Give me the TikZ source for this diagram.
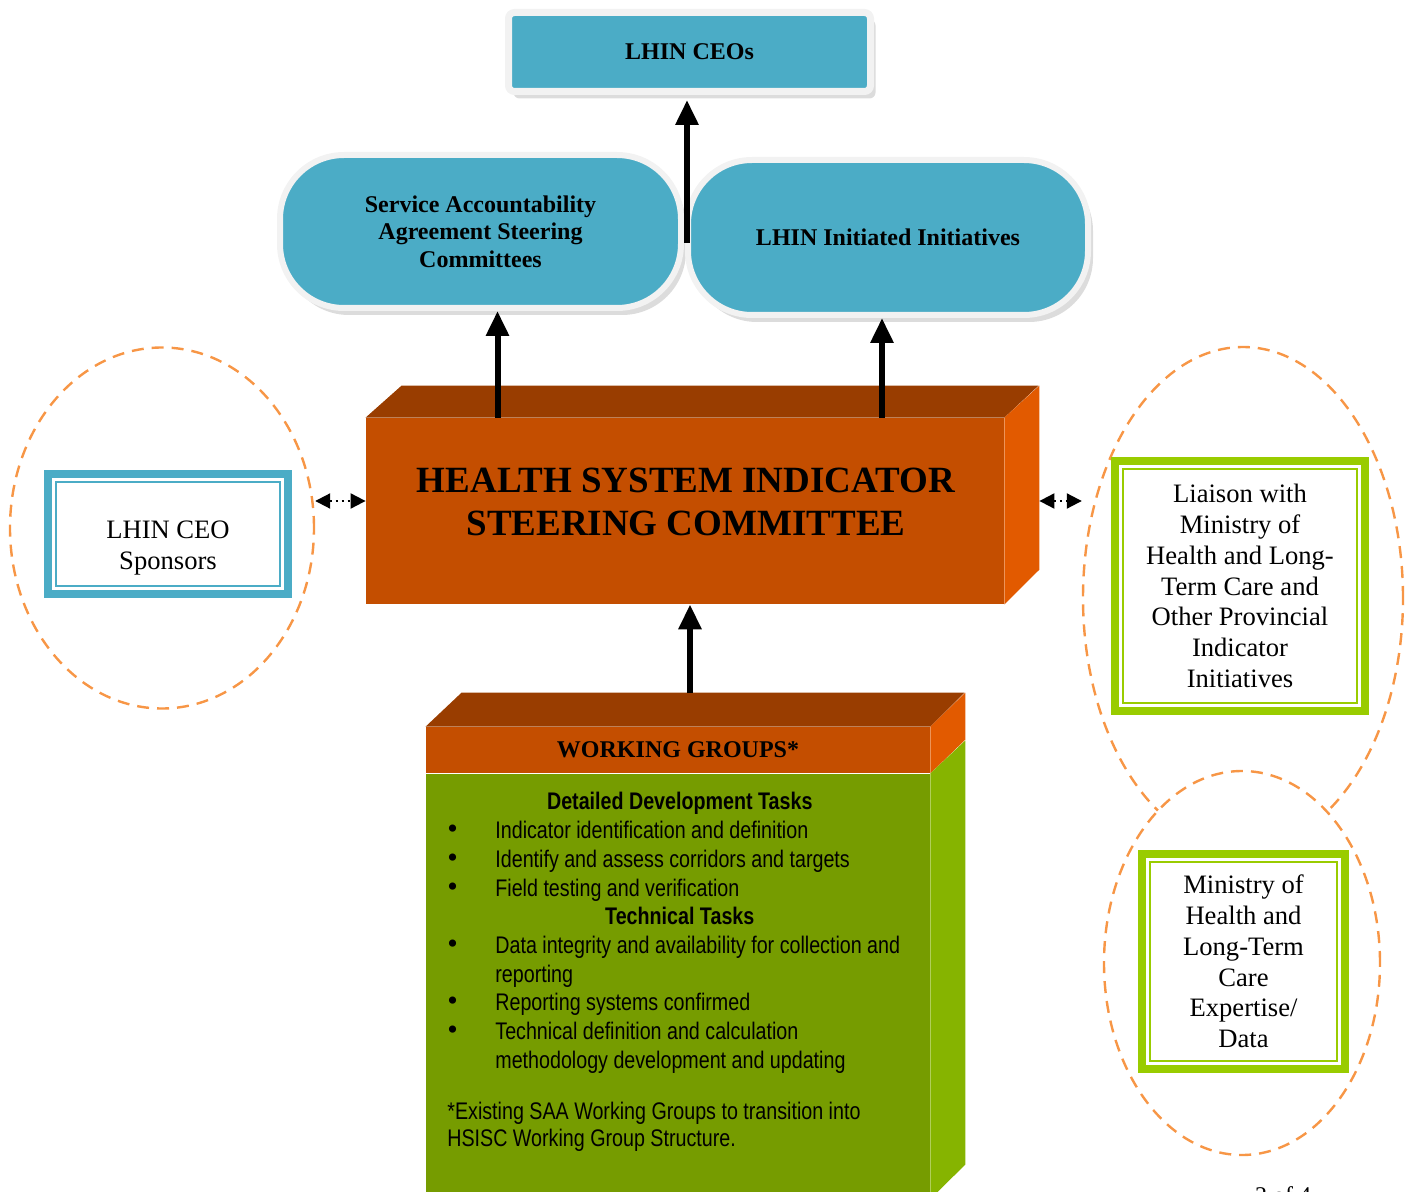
\documentclass[tikz,border=0pt]{standalone}
\usepackage{fontspec}
\setmainfont{Liberation Serif}
\newfontfamily\narrowfont[FakeStretch=0.82]{Liberation Sans}
\usepackage{tikz}
\usetikzlibrary{shapes.geometric,shadows,arrows.meta,positioning}
\definecolor{ceoBlue}{RGB}{75,172,198}
\definecolor{rimGray}{RGB}{242,242,242}
\definecolor{boxFront}{RGB}{196,78,0}
\definecolor{boxTop}{RGB}{153,61,0}
\definecolor{boxSide}{RGB}{226,90,0}
\definecolor{wgFront}{RGB}{118,156,0}
\definecolor{wgSide}{RGB}{134,180,0}
\definecolor{limeFrame}{RGB}{153,204,0}
\definecolor{ringOrange}{RGB}{247,150,70}
\newcommand{\wgDot}{{\rmfamily\fontsize{15}{14.35}\selectfont\textbullet}}
\tikzstyle{ceoBlock} = [rectangle,rounded corners=3pt,fill=ceoBlue,draw=rimGray,line width=3.5pt,inner sep=0pt,align=center,drop shadow={shadow xshift=2.5pt,shadow yshift=-3.5pt,fill=gray!55},font=\bfseries\fontsize{12}{13.75}\selectfont]
\tikzstyle{pill} = [ceoBlock,rounded corners=32pt,line width=3pt]
\tikzstyle{ring} = [ellipse,draw=ringOrange,line width=1.2pt,dash pattern=on 6pt off 4pt,inner sep=0pt]
\tikzstyle{arrowLine} = [draw,line width=3pt,-{Triangle[length=12.5pt,width=11pt]}]
\tikzstyle{dotArrow} = [draw,line width=1pt,dotted,{Triangle[length=7.5pt,width=7.5pt]}-{Triangle[length=7.5pt,width=7.5pt]}]
\tikzset{frameBox/.style={rectangle,fill=white,draw=#1,line width=4pt,inner sep=0pt,align=center,font=\fontsize{13.3}{15.4}\selectfont,
  path picture={\draw[#1,line width=1pt] ([shift={(4pt,-4pt)}]path picture bounding box.north west) rectangle ([shift={(-4pt,4pt)}]path picture bounding box.south east);}}}
\begin{document}
\begin{tikzpicture}[x=0.5pt,y=-0.5pt]
		\useasboundingbox (0,0) rectangle (1409,1192);
		%rings
		\node[ring,minimum width=152pt,minimum height=180.5pt](sponsorRing) at (162,528){};
		\node[ring,minimum width=160pt,minimum height=251pt](liaisonRing) at (1243,598){};
		\node[ring,fill=white,minimum width=138pt,minimum height=192pt](dataRing) at (1242,963){};
		\node[frameBox=ceoBlue,minimum width=120pt,minimum height=60pt](sponsors) at (168,534){\rule{0pt}{23pt}LHIN CEO\\Sponsors};
		\node[frameBox=limeFrame,minimum width=125pt,minimum height=125pt](liaison) at (1240,586){Liaison with\\Ministry of\\Health and Long-\\Term Care and\\Other Provincial\\Indicator\\Initiatives};
		\node[frameBox=limeFrame,minimum width=101.5pt,minimum height=107.5pt](ministry) at (1243.5,961.5){Ministry of\\Health and\\Long-Term\\Care\\Expertise/\\Data};
		%top blocks
		\node[ceoBlock,minimum width=181pt,minimum height=39.5pt](ceos) at (689.5,52){LHIN CEOs};
		\node[pill,minimum width=200.5pt,minimum height=76.5pt](saa) at (480.5,231.5){Service Accountability\\Agreement Steering\\Committees};
		\node[pill,minimum width=200pt,minimum height=77.5pt](initiatives) at (888,237.5){LHIN Initiated Initiatives};
		%steering committee
		\node[fill=boxFront,minimum width=319pt,minimum height=93pt,inner sep=0pt](hsic) at (685,511){};
		\fill[boxTop](hsic.north west) -- ++(36,-32) -- ++(637,0) -- (hsic.north east) -- cycle;
		\fill[boxSide](hsic.north east) -- ++(35,-32) -- ++(0,184) -- (hsic.south east) -- cycle;
		\node[align=center,font=\bfseries\fontsize{18.5}{21.5}\selectfont](hsicTitle) at (686,501.5){HEALTH SYSTEM INDICATOR\\STEERING COMMITTEE};
		%working groups
		\node[fill=boxFront,minimum width=252pt,minimum height=23pt,inner sep=0pt,font=\bfseries\fontsize{12}{14}\selectfont](wgHead) at (678,750){\raisebox{-1.5pt}{WORKING GROUPS*}};
		\node[fill=wgFront,minimum width=252pt,minimum height=212.5pt,inner sep=0pt,below=0pt of wgHead](wgBody){};
		\fill[boxTop](wgHead.north west) -- ++(36,-34) -- ++(503,0) -- (wgHead.north east) -- cycle;
		\fill[boxSide](wgHead.north east) -- ++(35,-34) -- ++(0,47) -- (wgHead.south east) -- cycle;
		\fill[wgSide](wgBody.north east) -- ++(35,-33) -- ++(0,424) -- (wgBody.south east) -- cycle;
		\node[anchor=north west,inner sep=0pt,font=\narrowfont\fontsize{12}{14.35}\selectfont](wgTasks) at (447,789.5){%
			\begin{tabular}{@{}p{24pt}@{}l@{}}
				\multicolumn{2}{c}{\hspace{6pt}\bfseries Detailed Development Tasks}\\
				\wgDot & Indicator identification and definition\\
				\wgDot & Identify and assess corridors and targets\\
				\wgDot & Field testing and verification\\
				\multicolumn{2}{c}{\hspace{6pt}\bfseries Technical Tasks}\\
				\wgDot & Data integrity and availability for collection and\\
				& reporting\\
				\wgDot & Reporting systems confirmed\\
				\wgDot & Technical definition and calculation\\
				& methodology development and updating
			\end{tabular}};
		\node[anchor=north west,inner sep=0pt,align=left,font=\narrowfont\fontsize{12}{13.5}\selectfont](wgNote) at (447,1102){*Existing SAA Working Groups to transition into\\HSISC Working Group Structure.};
		\node[anchor=base,font=\fontsize{12}{14}\selectfont](pageNo) at (1283,1203){2 of 4};
		%arrows
		\coordinate(pillGap) at (687,243);
		\coordinate(saaFoot) at ([xshift=8.5pt]saa.south);
		\coordinate(initFoot) at ([xshift=-3pt]initiatives.south);
		\coordinate(wgTop) at (690,693);
		\coordinate(sideLevel) at (0,501);
		\coordinate(hsicSide) at ([xshift=17.5pt]hsic.east);
		\path[arrowLine,shorten >=2.5pt](pillGap) -- (pillGap |- ceos.south);
		\path[arrowLine](saaFoot |- hsic.north) -- (saaFoot);
		\path[arrowLine](initFoot |- hsic.north) -- (initFoot);
		\path[arrowLine](wgTop) -- (wgTop |- hsic.south);
		\path[dotArrow](sponsorRing.east |- sideLevel) -- (hsic.west |- sideLevel);
		\path[dotArrow](hsicSide |- sideLevel) -- (liaisonRing.west |- sideLevel);
\end{tikzpicture}
\end{document}
